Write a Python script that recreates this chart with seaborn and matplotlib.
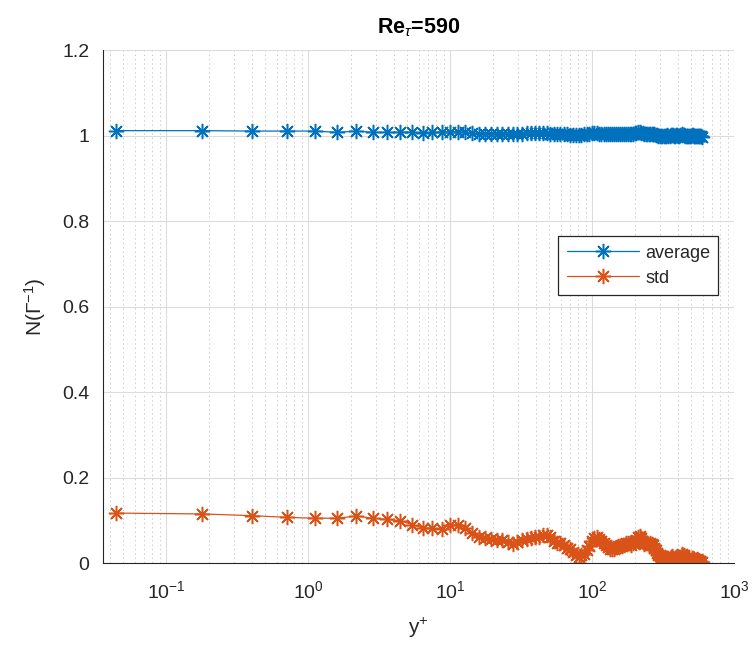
import pandas as pd
import matplotlib
matplotlib.use("Agg")
import matplotlib.pyplot as plt
import matplotlib.ticker as mticker
import seaborn as sns

# y+ grid points (wall-normal positions)
y_plus = [
    0.0444, 0.178, 0.400, 0.711, 1.11, 1.60, 2.18, 2.84, 3.60, 4.44,
    5.37, 6.39, 7.49, 8.69, 9.97, 11.34, 12.79, 14.34, 15.97, 17.68,
    19.48, 21.37, 23.35, 25.40, 27.55, 29.78, 32.09, 34.49, 36.97, 39.53,
    42.18, 44.91, 47.73, 50.62, 53.59, 56.65, 59.78, 63.00, 66.29, 69.67,
    73.12, 76.65, 80.25, 83.94, 87.70, 91.53, 95.45, 99.43, 103.5, 107.6,
    111.9, 116.2, 120.5, 124.9, 129.4, 134.0, 138.6, 143.3, 148.0, 152.9,
    157.7, 162.7, 167.7, 172.8, 177.9, 183.2, 188.4, 193.8, 199.2, 204.6,
    210.2, 215.7, 221.4, 227.0, 232.7, 238.5, 244.4, 250.3, 256.2, 262.2,
    268.3, 274.4, 280.5, 286.7, 292.9, 299.2, 305.5, 311.9, 318.3, 324.7,
    331.2, 337.8, 344.3, 350.9, 357.6, 364.2, 370.9, 377.7, 384.4, 391.2,
    398.1, 404.9, 411.8, 418.7, 425.7, 432.6, 439.7, 446.6, 453.7, 460.7,
    467.8, 474.9, 482.0, 489.2, 496.3, 503.4, 510.6, 517.8, 525.0, 532.2,
    539.4, 546.6, 553.8, 561.1, 568.3, 575.5, 582.7, 590.0,
]

avg_vals = [
    1.012, 1.012, 1.011, 1.011, 1.011, 1.008, 1.011, 1.008, 1.008, 1.008,
    1.008, 1.007, 1.008, 1.008, 1.009, 1.009, 1.008, 1.006, 1.005, 1.005,
    1.005, 1.004, 1.005, 1.004, 1.004, 1.005, 1.005, 1.006, 1.006, 1.006,
    1.006, 1.006, 1.006, 1.005, 1.004, 1.004, 1.003, 1.003, 1.003, 1.002,
    1.002, 1.001, 1.001, 1.002, 1.003, 1.004, 1.005, 1.006, 1.006, 1.006,
    1.005, 1.005, 1.004, 1.004, 1.004, 1.003, 1.003, 1.004, 1.004, 1.004,
    1.004, 1.004, 1.005, 1.005, 1.005, 1.005, 1.005, 1.005, 1.006, 1.007,
    1.008, 1.008, 1.007, 1.006, 1.005, 1.005, 1.005, 1.005, 1.005, 1.005,
    1.004, 1.003, 1.002, 1.001, 1.000, 1.000, 1.000, 0.999, 0.999, 1.000,
    1.000, 1.001, 1.000, 1.000, 1.001, 1.002, 1.001, 1.000, 1.000, 1.001,
    1.001, 1.000, 1.000, 1.001, 1.002, 1.003, 1.002, 1.001, 1.000, 0.999,
    0.999, 1.000, 1.000, 0.999, 1.000, 1.001, 1.001, 1.000, 0.999, 0.999,
    1.000, 1.000, 0.999, 0.999, 0.999, 0.999, 0.999, 0.998,
]

std_vals = [
    0.117, 0.115, 0.111, 0.107, 0.105, 0.105, 0.110, 0.105, 0.102, 0.099,
    0.090, 0.082, 0.081, 0.080, 0.089, 0.089, 0.082, 0.070, 0.062, 0.059,
    0.057, 0.054, 0.053, 0.049, 0.045, 0.049, 0.053, 0.057, 0.059, 0.060,
    0.062, 0.065, 0.066, 0.060, 0.052, 0.048, 0.046, 0.042, 0.036, 0.032,
    0.027, 0.020, 0.014, 0.018, 0.022, 0.030, 0.040, 0.052, 0.058, 0.060,
    0.057, 0.052, 0.047, 0.042, 0.038, 0.034, 0.033, 0.034, 0.037, 0.040,
    0.041, 0.039, 0.042, 0.046, 0.048, 0.046, 0.043, 0.047, 0.052, 0.055,
    0.060, 0.063, 0.058, 0.050, 0.044, 0.046, 0.048, 0.043, 0.048, 0.045,
    0.042, 0.036, 0.030, 0.024, 0.019, 0.016, 0.014, 0.012, 0.013, 0.015,
    0.011, 0.009, 0.012, 0.010, 0.014, 0.016, 0.012, 0.010, 0.013, 0.015,
    0.011, 0.008, 0.010, 0.014, 0.018, 0.022, 0.020, 0.016, 0.012, 0.008,
    0.006, 0.009, 0.008, 0.006, 0.008, 0.011, 0.013, 0.010, 0.007, 0.005,
    0.008, 0.010, 0.008, 0.006, 0.004, 0.005, 0.003, 0.002,
]

series_names = ["average", "std"]
series_colors = ["#0072BD", "#D95319"]

sns.set_theme(style="white")
plt.rcParams["font.family"] = ["Liberation Sans", "DejaVu Sans"]
plt.rcParams["mathtext.fontset"] = "custom"
plt.rcParams["mathtext.rm"] = "Liberation Sans"
plt.rcParams["mathtext.it"] = "Liberation Sans:italic"
plt.rcParams["mathtext.bf"] = "Liberation Sans:bold:italic"

AX_COLOR = "#262626"

fig = plt.figure(figsize=(7.53, 6.45), dpi=100)
ax = fig.add_axes([0.137, 0.127, 0.838, 0.795])

asterisk = (8, 2, 0)
for name, vals, col in zip(series_names, [avg_vals, std_vals], series_colors):
    df = pd.DataFrame({"y+": y_plus, "value": vals})
    sns.lineplot(data=df, x="y+", y="value", ax=ax, color=col, label=name,
                 marker=asterisk, markersize=11, markeredgewidth=1.1,
                 markeredgecolor=col, linewidth=0.9, errorbar=None)

ax.set_xscale("log")
ax.set_xlim(0.036, 1000)
ax.set_ylim(0, 1.2)
ax.set_yticks([0, 0.2, 0.4, 0.6, 0.8, 1.0, 1.2])
ax.yaxis.set_major_formatter(mticker.FuncFormatter(lambda v, p: f"{v:g}"))
ax.xaxis.set_major_locator(mticker.LogLocator(base=10, numticks=10))
ax.xaxis.set_minor_locator(mticker.LogLocator(base=10, subs=range(2, 10), numticks=20))
ax.xaxis.set_minor_formatter(mticker.NullFormatter())

# matlab-like grid, box off
ax.set_axisbelow(True)
ax.grid(which="major", color="#dcdcdc", linewidth=0.8, linestyle="-")
ax.grid(which="minor", axis="x", color="#cccccc", linewidth=0.7, linestyle=(0, (1.5, 3)))
for s in ["top", "right"]:
    ax.spines[s].set_visible(False)
for s in ["left", "bottom"]:
    ax.spines[s].set_color(AX_COLOR)
    ax.spines[s].set_linewidth(0.8)

ax.tick_params(axis="both", which="major", direction="in", length=5, width=0.8,
               color=AX_COLOR, labelcolor=AX_COLOR, labelsize=14)
ax.tick_params(axis="y", which="major", pad=10)
ax.tick_params(axis="x", which="major", pad=12)
ax.tick_params(axis="x", which="minor", direction="in", length=3, width=0.6, color=AX_COLOR)
ax.tick_params(top=False, right=False, which="both")

ax.set_title(r"Re$_{\tau}$=590", fontsize=15.5, fontweight="bold", color="black", pad=12)
ax.set_xlabel(r"y$^{+}$", fontsize=15, color=AX_COLOR, labelpad=10)
ax.set_ylabel(r"N($\Gamma^{-1}$)", fontsize=15, color=AX_COLOR, labelpad=10)

leg = ax.legend(loc="upper right", bbox_to_anchor=(0.975, 0.637), borderaxespad=0,
                fontsize=13, frameon=True, fancybox=False, edgecolor=AX_COLOR,
                framealpha=1, borderpad=0.45, handlelength=4.0, labelspacing=0.45,
                handletextpad=0.35)
leg.get_frame().set_linewidth(0.9)
for t in leg.get_texts():
    t.set_color(AX_COLOR)

fig.savefig("out.png", dpi=100)
plt.close(fig)
